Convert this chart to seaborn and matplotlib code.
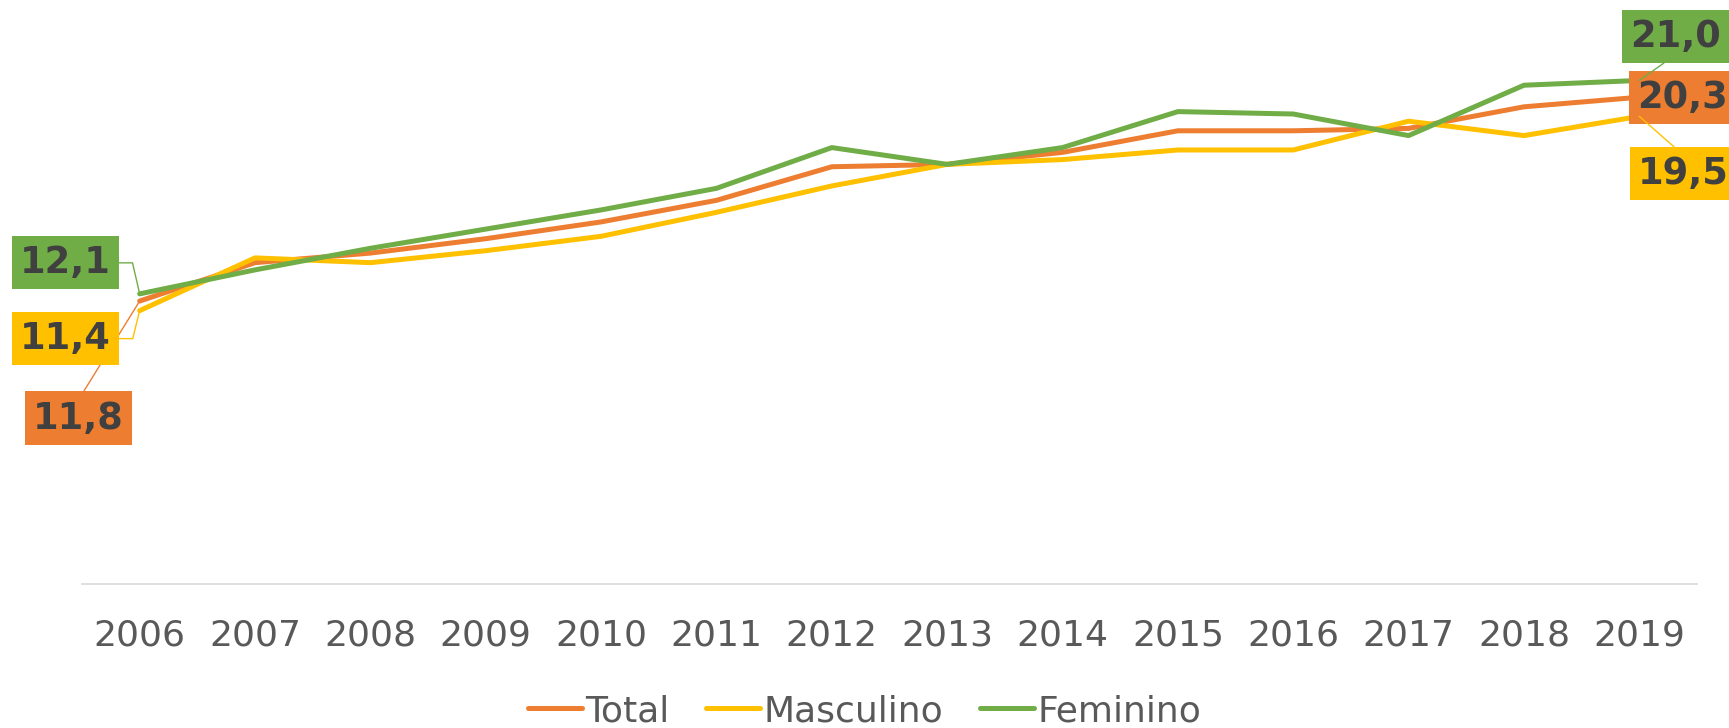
import matplotlib
matplotlib.use("Agg")
import matplotlib.pyplot as plt
from matplotlib.lines import Line2D
import seaborn as sns
import pandas as pd

years = [2006, 2007, 2008, 2009, 2010, 2011, 2012, 2013, 2014, 2015, 2016, 2017, 2018, 2019]
total = [11.8, 13.4, 13.8, 14.4, 15.1, 16.0, 17.4, 17.5, 18.0, 18.9, 18.9, 19.0, 19.9, 20.3]
masculino = [11.4, 13.6, 13.4, 13.9, 14.5, 15.5, 16.6, 17.5, 17.7, 18.1, 18.1, 19.3, 18.7, 19.5]
feminino = [12.1, 13.1, 14.0, 14.8, 15.6, 16.5, 18.2, 17.5, 18.2, 19.7, 19.6, 18.7, 20.8, 21.0]
series_names = ["Total", "Masculino", "Feminino"]
colors = {"Total": "#ED7D31", "Masculino": "#FFC000", "Feminino": "#70AD47"}

df = pd.DataFrame({
    "Ano": years * 3,
    "Valor": total + masculino + feminino,
    "Série": [s for s in series_names for _ in years],
})

sns.set_theme(style="white")
plt.rcParams["font.family"] = ["DejaVu Sans"]

W, H = 1729, 728
fig = plt.figure(figsize=(W / 100, H / 100), dpi=100)
ax = fig.add_axes([82 / W, 1 - 584 / H, (1697 - 82) / W, (584 - 8.5) / H])

sns.lineplot(data=df, x="Ano", y="Valor", hue="Série", hue_order=series_names,
             palette=colors, linewidth=3.6, ax=ax, legend=False, zorder=3)
for ln in ax.get_lines():
    ln.set_solid_joinstyle("round")

ax.set_xlim(years[0] - 0.5, years[-1] + 0.5)
ax.set_ylim(0, 24)
ax.set_xticks(years)
ax.set_xticklabels([str(y) for y in years])
ax.set_yticks([])
ax.set_xlabel("")
ax.set_ylabel("")
for s in ["top", "left", "right"]:
    ax.spines[s].set_visible(False)
ax.spines["bottom"].set_color("#D9D9D9")
ax.spines["bottom"].set_linewidth(1.2)
ax.tick_params(axis="x", length=0, pad=25, labelsize=26, labelcolor="#595959")
ax.grid(False)

TXT = "#404040"


def label(x, y, text, color, dx, dy, relpos=(0.5, 0.5), conn="arc3", z=5):
    ax.annotate(text, xy=(x, y), xytext=(dx * 0.72, dy * 0.72), textcoords="offset points",
                ha="center", va="center", fontsize=26.5, fontweight="bold", color=TXT,
                bbox=dict(boxstyle="square,pad=0.22", fc=color, ec="none"),
                arrowprops=dict(arrowstyle="-", color=color, lw=1.0, shrinkA=0, shrinkB=0,
                                relpos=relpos, connectionstyle=conn),
                annotation_clip=False, zorder=z)


# left labels (first year)
label(years[0], total[0], f"{total[0]:.1f}".replace(".", ","), colors["Total"], -61, -117,
      relpos=(0.5, 1.0), z=5)
label(years[0], feminino[0], f"{feminino[0]:.1f}".replace(".", ","), colors["Feminino"], -74, 31,
      relpos=(1.0, 0.5), conn="angle,angleA=0,angleB=103,rad=0", z=6)
label(years[0], masculino[0], f"{masculino[0]:.1f}".replace(".", ","), colors["Masculino"], -74, -28,
      relpos=(1.0, 0.5), conn="angle,angleA=0,angleB=76,rad=0", z=6)

# right labels (last year)
label(years[-1], total[-1], f"{total[-1]:.1f}".replace(".", ","), colors["Total"], 43, 0, z=5)
label(years[-1], feminino[-1], f"{feminino[-1]:.1f}".replace(".", ","), colors["Feminino"], 36, 44,
      relpos=(0.5, 0.0), z=6)
label(years[-1], masculino[-1], f"{masculino[-1]:.1f}".replace(".", ","), colors["Masculino"], 44, -57,
      relpos=(0.5, 1.0), z=6)

handles = [Line2D([0], [0], color=colors[s], lw=3.6, solid_capstyle="round") for s in series_names]
leg = fig.legend(handles, series_names, loc="center", bbox_to_anchor=(0.5, 1 - 711 / H),
                 ncol=3, frameon=False, fontsize=26, handlelength=1.5, handletextpad=0.1,
                 columnspacing=1.0, borderpad=0, borderaxespad=0)
for t in leg.get_texts():
    t.set_color("#595959")

fig.savefig("out.png", dpi=100)
